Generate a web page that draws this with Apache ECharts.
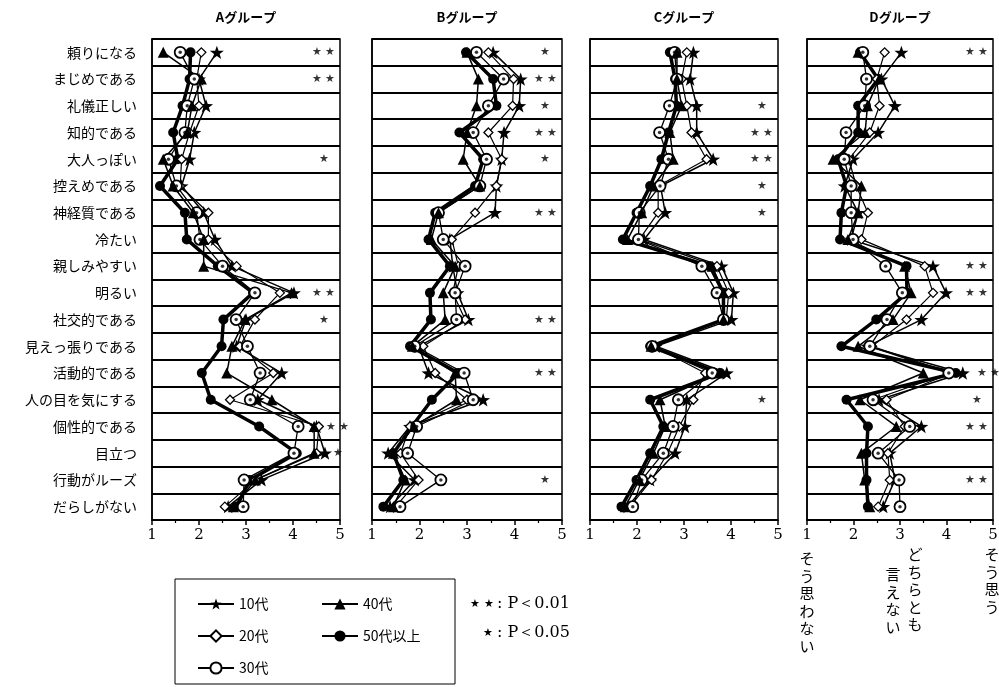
<!DOCTYPE html>
<html>
<head>
<meta charset="utf-8"/>
<script src="https://cdn.jsdelivr.net/npm/echarts@6/dist/echarts.min.js"></script>
</head>
<body style="margin:0;background:#fff">
<div id="main" style="width:999px;height:687px;"></div>
<script type="text/javascript">
    // 項目（上から下）
    var items = ['頼りになる', 'まじめである', '礼儀正しい', '知的である', '大人っぽい', '控えめである',
        '神経質である', '冷たい', '親しみやすい', '明るい', '社交的である', '見えっ張りである',
        '活動的である', '人の目を気にする', '個性的である', '目立つ', '行動がルーズ', 'だらしがない'];
    var groups = ['Aグループ', 'Bグループ', 'Cグループ', 'Dグループ'];
    var ages = ['10代', '20代', '30代', '40代', '50代以上'];
    var xTicks = [1, 2, 3, 4, 5];

    // Aグループ
    var a10 = [2.38, 2.0, 2.15, 1.9, 1.8, 1.63, 2.1, 2.34, 2.7, 4.02, 3.0, 2.8, 3.76, 3.25, 4.5, 4.68, 3.33, 2.62];
    var a20 = [2.05, 1.95, 2.0, 1.8, 1.63, 1.6, 2.2, 2.2, 2.8, 3.72, 3.19, 2.87, 3.58, 2.66, 4.55, 4.5, 3.2, 2.55];
    var a30 = [1.6, 1.9, 1.75, 1.7, 1.35, 1.52, 1.95, 2.02, 2.5, 3.19, 2.79, 3.03, 3.3, 3.09, 4.11, 4.02, 2.96, 2.94];
    var a40 = [1.24, 2.05, 1.85, 1.75, 1.24, 1.45, 1.88, 2.1, 2.1, 3.97, 2.98, 2.7, 2.59, 3.55, 4.45, 4.45, 3.2, 2.73];
    var a50 = [1.82, 1.8, 1.65, 1.45, 1.55, 1.17, 1.7, 1.74, 2.4, 3.15, 2.52, 2.48, 2.06, 2.25, 3.28, 4.08, 3.08, 2.8];
    // Bグループ
    var b10 = [3.55, 4.13, 4.1, 3.78, 3.73, 3.62, 3.59, 2.64, 2.7, 2.8, 3.03, 1.98, 2.19, 3.34, 1.8, 1.34, 1.9, 1.38];
    var b20 = [3.45, 3.98, 3.96, 3.45, 3.73, 3.62, 3.17, 2.68, 2.82, 2.7, 2.96, 2.08, 2.33, 3.0, 1.8, 1.6, 1.98, 1.5];
    var b30 = [3.2, 3.77, 3.45, 3.13, 3.41, 3.27, 2.4, 2.5, 2.96, 2.75, 2.78, 1.9, 2.94, 3.13, 1.94, 1.75, 2.45, 1.59];
    var b40 = [3.0, 3.24, 3.2, 3.0, 2.92, 3.27, 2.4, 2.25, 2.75, 2.5, 2.54, 1.85, 2.75, 2.78, 1.88, 1.45, 1.7, 1.45];
    var b50 = [2.98, 3.55, 3.62, 2.84, 3.34, 3.17, 2.33, 2.19, 2.64, 2.22, 2.24, 1.8, 2.82, 2.26, 1.84, 1.45, 1.66, 1.24];
    // Cグループ
    var c10 = [3.2, 3.13, 3.27, 3.27, 3.62, 2.5, 2.6, 2.15, 3.8, 4.05, 4.01, 2.4, 3.91, 3.06, 3.02, 2.81, 2.28, 1.8];
    var c20 = [3.06, 2.95, 3.06, 3.16, 3.48, 2.45, 2.45, 2.05, 3.7, 3.95, 3.9, 2.35, 3.45, 3.2, 2.9, 2.65, 2.31, 1.85];
    var c30 = [2.8, 2.85, 2.69, 2.48, 2.67, 2.49, 2.05, 2.03, 3.38, 3.7, 3.84, 2.32, 3.6, 2.88, 2.77, 2.56, 2.1, 1.91];
    var c40 = [2.85, 2.85, 2.95, 2.7, 2.77, 2.35, 2.1, 1.8, 3.6, 3.84, 3.84, 2.3, 3.75, 2.49, 2.6, 2.35, 2.05, 1.75];
    var c50 = [2.7, 2.81, 2.84, 2.67, 2.52, 2.28, 1.99, 1.7, 3.55, 3.84, 3.84, 2.28, 3.77, 2.28, 2.56, 2.28, 1.99, 1.67];
    // Dグループ
    var d10 = [3.03, 2.6, 2.89, 2.53, 1.99, 1.81, 2.1, 1.95, 3.71, 3.99, 3.46, 2.3, 4.35, 2.55, 3.46, 2.78, 2.89, 2.64];
    var d20 = [2.67, 2.5, 2.56, 2.35, 1.9, 2.06, 2.31, 2.17, 3.53, 3.71, 3.14, 2.4, 4.1, 2.71, 3.1, 2.74, 2.78, 2.53];
    var d30 = [2.2, 2.28, 2.24, 1.84, 1.8, 1.95, 1.95, 1.99, 2.69, 3.05, 2.72, 2.35, 4.05, 2.42, 3.21, 2.53, 2.98, 3.0];
    var d40 = [2.1, 2.55, 2.3, 2.25, 1.56, 2.17, 2.1, 1.88, 3.1, 3.24, 2.85, 2.1, 3.5, 2.14, 2.92, 2.17, 2.24, 2.35];
    var d50 = [2.14, 2.53, 2.1, 2.1, 1.67, 1.85, 1.74, 1.71, 3.14, 3.15, 2.49, 1.74, 4.2, 1.85, 2.31, 2.28, 2.28, 2.31];

    // 有意差
    var sigA = ['**', '**', '', '', '*', '', '', '', '', '**', '*', '', '', '', '**', '*', '', ''];
    var sigB = ['*', '**', '*', '**', '*', '', '**', '', '', '', '**', '', '**', '', '', '', '*', ''];
    var sigC = ['', '', '*', '**', '**', '*', '*', '', '', '', '', '', '', '*', '', '', '', ''];
    var sigD = ['**', '', '', '', '', '', '', '', '**', '**', '', '', '**', '*', '**', '', '**', ''];

    var panels = [[a10, a20, a30, a40, a50], [b10, b20, b30, b40, b50], [c10, c20, c30, c40, c50], [d10, d20, d30, d40, d50]];
    var sigs = [sigA, sigB, sigC, sigD];

    var jp = '"Noto Sans CJK JP", sans-serif';
    var serif = '"DejaVu Serif", "Liberation Serif", serif';
    var starPath = 'path://M0,-10L2.35,-3.24L9.51,-3.09L3.8,1.24L5.88,8.09L0,4L-5.88,8.09L-3.8,1.24L-9.51,-3.09L-2.35,-3.24Z';

    var gridPos = [[152, 188], [372, 190], [590, 188], [807, 186]];
    var gridTop = 39, gridH = 481;

    // 年代ごとの描き方
    var look = [
        { symbol: starPath, size: 14, fill: '#000', border: '#000', bw: 0, lw: 1.5 },
        { symbol: 'diamond', size: 9, fill: '#fff', border: '#000', bw: 1.3, lw: 1.2 },
        { symbol: 'circle', size: 11, fill: '#fff', border: '#000', bw: 1.8, lw: 1.3 },
        { symbol: 'triangle', size: 11, fill: '#000', border: '#000', bw: 0, lw: 1.5 },
        { symbol: 'circle', size: 10, fill: '#000', border: '#000', bw: 0, lw: 3.5 }
    ];

    // 右はみ出しの記号位置
    function sigX(p, i) {
        if (p === 0 && (i === 14 || i === 15)) return 4.95;
        if (p === 3 && i === 12) return 4.9;
        return 4.65;
    }

    var grids = [], xAxes = [], yAxes = [], series = [];
    panels.forEach(function (rows, p) {
        grids.push({
            left: gridPos[p][0], width: gridPos[p][1], top: gridTop, height: gridH,
            show: true, borderColor: '#000', borderWidth: 1.5, outerBoundsMode: 'none'
        });
        xAxes.push({
            type: 'value', gridIndex: p, min: 1, max: 5, interval: 1,
            axisLine: { show: true, lineStyle: { color: '#000', width: 1.5 } },
            axisTick: { show: true, length: 5, lineStyle: { color: '#000', width: 1.5 } },
            minorTick: { show: true, splitNumber: 2, length: 3, lineStyle: { color: '#000', width: 1.2 } },
            axisLabel: {
                color: '#000', fontSize: 15, fontFamily: serif, margin: 8,
                formatter: function (v) { return xTicks.indexOf(v) >= 0 ? String(v) : ''; }
            },
            splitLine: { show: false }
        });
        yAxes.push({
            type: 'category', gridIndex: p, data: items, inverse: true,
            axisLine: { show: true, lineStyle: { color: '#000', width: 1.5 } },
            axisTick: { show: false },
            axisLabel: { show: p === 0, color: '#000', fontSize: 14, fontFamily: jp, margin: 15 },
            splitLine: { show: true, lineStyle: { color: '#000', width: 2 } }
        });
        rows.forEach(function (vals, k) {
            var s = look[k];
            series.push({
                type: 'line', name: ages[k], xAxisIndex: p, yAxisIndex: p,
                data: vals.map(function (v, i) { return [v, items[i]]; }),
                symbol: s.symbol, symbolSize: s.size, symbolKeepAspect: true, showAllSymbol: true,
                itemStyle: { color: s.fill, borderColor: s.border, borderWidth: s.bw },
                lineStyle: { color: '#000', width: s.lw },
                emphasis: { disabled: true },
                animation: false, z: 3 + (k === 4 ? 0 : 1)
            });
        });
        // 30代の中心点
        series.push({
            type: 'scatter', name: '30代点', xAxisIndex: p, yAxisIndex: p,
            data: rows[2].map(function (v, i) { return [v, items[i]]; }),
            symbol: 'circle', symbolSize: 3.5, itemStyle: { color: '#000' },
            silent: true, animation: false, z: 6
        });
        // 有意差の印
        var sd = [];
        sigs[p].forEach(function (m, i) { if (m) sd.push([sigX(p, i), items[i], m]); });
        series.push({
            type: 'scatter', name: 'sig', xAxisIndex: p, yAxisIndex: p, data: sd,
            symbolSize: 0, silent: true, animation: false,
            label: {
                show: true, position: 'inside', color: '#000', fontSize: 11,
                formatter: function (o) { return o.value[2] === '**' ? '★ ★' : '★'; }
            }
        });
    });

    var graphics = [];
    groups.forEach(function (g, p) {
        graphics.push({
            type: 'text', x: gridPos[p][0] + gridPos[p][1] / 2, y: 17,
            style: { text: g, fontSize: 13, fontWeight: 'bold', fontFamily: jp, fill: '#000', align: 'center', verticalAlign: 'middle' }
        });
    });
    // 凡例の枠
    graphics.push({ type: 'rect', shape: { x: 175, y: 579, width: 280, height: 105 }, style: { fill: 'none', stroke: '#000', lineWidth: 1 } });
    // 有意水準
    graphics.push({ type: 'text', x: 482, y: 604, style: { text: '★ ★', fontSize: 11, fill: '#000', align: 'center', verticalAlign: 'middle' } });
    graphics.push({ type: 'text', x: 497, y: 604, style: { text: ': P＜0.01', fontSize: 16, fontFamily: serif, fill: '#000', verticalAlign: 'middle' } });
    graphics.push({ type: 'text', x: 488, y: 633, style: { text: '★', fontSize: 11, fill: '#000', align: 'center', verticalAlign: 'middle' } });
    graphics.push({ type: 'text', x: 497, y: 633, style: { text: ': P＜0.05', fontSize: 16, fontFamily: serif, fill: '#000', verticalAlign: 'middle' } });
    // 尺度の説明（縦書き）
    var vlabels = [['そう思わない', 807, 550], ['どちらとも', 915, 546], ['言えない', 893, 566], ['そう思う', 992, 546]];
    vlabels.forEach(function (v) {
        graphics.push({
            type: 'text', x: v[1], y: v[2],
            style: { text: v[0].split('').join('\n'), fontSize: 15, lineHeight: 17.5, fontFamily: jp, fill: '#000', align: 'center', verticalAlign: 'top' }
        });
    });

    var legendText = { color: '#000', fontSize: 14, fontFamily: jp };
    var option = {
        backgroundColor: '#fff',
        animation: false,
        grid: grids,
        xAxis: xAxes,
        yAxis: yAxes,
        legend: [
            { data: ['10代', '20代', '30代'], orient: 'vertical', left: 192, top: 592, itemWidth: 36, itemHeight: 14, itemGap: 18, textStyle: legendText, selectedMode: false },
            { data: ['40代', '50代以上'], orient: 'vertical', left: 316, top: 592, itemWidth: 36, itemHeight: 14, itemGap: 18, textStyle: legendText, selectedMode: false }
        ],
        graphic: graphics,
        series: series
    };

    var myChart = echarts.init(document.getElementById('main'));
    myChart.setOption(option);
</script>
</body>
</html>
